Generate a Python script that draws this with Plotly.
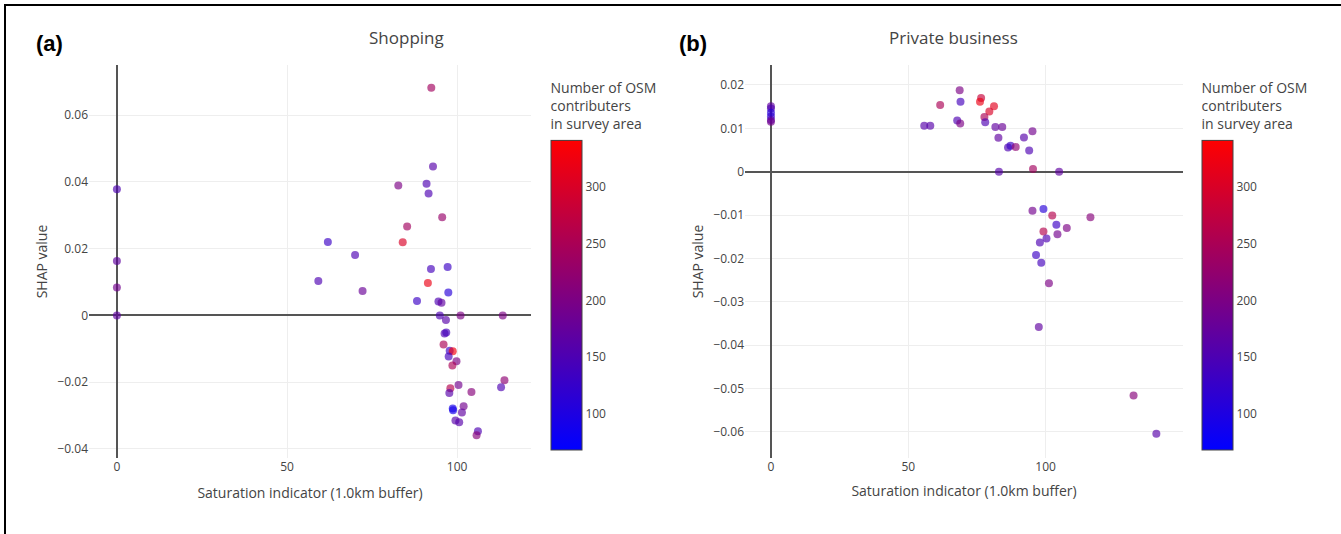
import plotly.graph_objects as go

W, H = 1341, 534

# ---------------- data ----------------
shop_x = [92.4, 92.9, 82.7, 91.0, 91.6, 95.6, 85.3, 84.0, 62.0, 70.0,
          59.2, 72.2, 92.3, 97.2, 91.4, 88.2, 97.4, 94.5, 95.4, 94.9,
          101.0, 113.4, 96.7, 96.3, 96.8, 96.0, 97.8, 98.7, 97.5, 99.8,
          98.6, 113.9, 112.9, 100.4, 98.0, 97.7, 104.2, 98.7, 98.8, 101.9,
          101.4, 99.5, 100.6, 106.1, 105.7, 0, 0, 0, 0]
shop_y = [0.0682, 0.0446, 0.0389, 0.0394, 0.0365, 0.0294, 0.0266, 0.0219, 0.0220, 0.0181,
          0.0103, 0.0073, 0.0139, 0.0145, 0.0097, 0.0043, 0.0069, 0.0042, 0.0038, 0.0,
          0.0, 0.0, -0.0014, -0.0054, -0.0051, -0.0087, -0.0106, -0.0107, -0.0123, -0.0137,
          -0.0150, -0.0194, -0.0215, -0.0208, -0.0218, -0.0232, -0.0229, -0.0279, -0.0284, -0.0272,
          -0.0291, -0.0315, -0.0320, -0.0347, -0.0359, 0.0378, 0.0163, 0.0084, 0.0]
shop_c = [240, 160, 200, 150, 150, 230, 240, 300, 130, 150,
          150, 180, 140, 130, 320, 130, 110, 150, 170, 150,
          200, 200, 160, 150, 140, 250, 130, 330, 140, 200,
          250, 220, 150, 190, 260, 160, 210, 90, 90, 190,
          170, 160, 160, 150, 210, 150, 170, 190, 170]

biz_x = [0, 0, 0, 0, 0, 0,
         68.7, 69.0, 61.6, 76.5, 76.1, 81.2, 79.5, 77.7, 78.0, 67.8,
         68.9, 55.8, 58.0, 81.7, 84.2, 95.2, 82.8, 92.1, 86.3, 87.2,
         89.1, 94.0, 95.4, 83.0, 104.9, 95.2, 99.2, 102.4, 116.3, 103.9,
         107.7, 99.2, 104.3, 100.3, 97.9, 96.5, 98.4, 101.2, 97.5, 132.0, 140.3]
biz_y = [0.0151, 0.0146, 0.0136, 0.0127, 0.0119, 0.0115,
         0.0188, 0.0161, 0.0154, 0.0170, 0.0161, 0.0151, 0.0139, 0.0126, 0.0114, 0.0118,
         0.0111, 0.0106, 0.0106, 0.0103, 0.0103, 0.0093, 0.0078, 0.0079, 0.0056, 0.0060,
         0.0057, 0.0049, 0.0006, 0.0, 0.0, -0.0090, -0.0086, -0.0101, -0.0105, -0.0122,
         -0.0130, -0.0138, -0.0144, -0.0154, -0.0163, -0.0192, -0.0210, -0.0257, -0.0358, -0.0516, -0.0604]
biz_c = [170, 150, 110, 120, 160, 190,
         200, 140, 250, 280, 320, 310, 300, 250, 150, 150,
         200, 160, 160, 170, 180, 190, 170, 160, 150, 130,
         220, 150, 240, 160, 170, 190, 110, 260, 210, 130,
         200, 260, 190, 150, 150, 130, 140, 200, 170, 210, 160]

titles = ["Shopping", "Private business"]
panel_labels = ["(a)", "(b)"]
x_title = "Saturation indicator (1.0km buffer)"
y_title = "SHAP value"
cbar_title = "Number of OSM<br>contributers<br>in survey area"
c_min, c_max = 68, 341

# ---------------- figure ----------------
FONT = "Open Sans"
GREY = "#444"
scale = [[0, "rgb(0,0,255)"], [1, "rgb(255,0,0)"]]


def px_x(p):
    return p / W


def px_y(p):
    return 1 - p / H


def cbar(left_px):
    return dict(
        title=dict(text=cbar_title, side="top", font=dict(family=FONT, size=14, color=GREY)),
        x=px_x(left_px), xanchor="left", xpad=0,
        y=px_y(450), yanchor="bottom", ypad=0,
        lenmode="pixels", len=370,
        thickness=31, thicknessmode="pixels",
        outlinewidth=1, outlinecolor=GREY,
        tickfont=dict(family=FONT, size=12, color=GREY),
        tickvals=[100, 150, 200, 250, 300],
        ticks="", ticklabelposition="outside",
    )


fig = go.Figure()
fig.add_trace(go.Scatter(
    x=shop_x, y=shop_y, mode="markers", xaxis="x", yaxis="y", showlegend=False,
    marker=dict(size=8, color=shop_c, colorscale=scale, cmin=c_min, cmax=c_max,
                opacity=0.65, line=dict(width=0), colorbar=cbar(551)),
))
fig.add_trace(go.Scatter(
    x=biz_x, y=biz_y, mode="markers", xaxis="x2", yaxis="y2", showlegend=False,
    marker=dict(size=8, color=biz_c, colorscale=scale, cmin=c_min, cmax=c_max,
                opacity=0.65, line=dict(width=0), colorbar=cbar(1202)),
))

axis_common = dict(
    showgrid=True, gridcolor="#EEEEEE", gridwidth=1,
    zeroline=True, zerolinecolor="#555", zerolinewidth=1.5,
    showline=False, ticks="",
    tickfont=dict(family=FONT, size=12, color=GREY),
    title_font=dict(family=FONT, size=14, color=GREY),
)

fig.update_layout(
    width=W, height=H,
    margin=dict(l=0, r=0, t=0, b=0),
    paper_bgcolor="white", plot_bgcolor="white",
    font=dict(family=FONT, color=GREY),
    xaxis=dict(domain=[px_x(89), px_x(531)], range=[-8.2, 121.7], anchor="y",
               tickvals=[0, 50, 100], title=dict(text=x_title, standoff=14), **axis_common),
    yaxis=dict(domain=[px_y(458), px_y(65)], range=[-0.0427, 0.075], anchor="x",
               dtick=0.02, title=dict(text=y_title, standoff=6), **axis_common),
    xaxis2=dict(domain=[px_x(745), px_x(1183)], range=[-9.45, 150], anchor="y2",
                tickvals=[0, 50, 100], title=dict(text=x_title, standoff=12), **axis_common),
    yaxis2=dict(domain=[px_y(458), px_y(65)], range=[-0.066, 0.0246], anchor="x2",
                dtick=0.01, title=dict(text=y_title, standoff=6), **axis_common),
    annotations=[
        dict(text=titles[0], x=px_x(367), y=px_y(38), xref="paper", yref="paper",
             yanchor="middle", showarrow=False, font=dict(family=FONT, size=17, color=GREY)),
        dict(text=titles[1], x=px_x(1020), y=px_y(38), xref="paper", yref="paper",
             yanchor="middle", showarrow=False, font=dict(family=FONT, size=17, color=GREY)),
        dict(text="<b>" + panel_labels[0] + "</b>", x=px_x(34), y=px_y(44), xref="paper", yref="paper",
             xanchor="left", yanchor="middle", showarrow=False,
             font=dict(family="Liberation Sans", size=22, color="black")),
        dict(text="<b>" + panel_labels[1] + "</b>", x=px_x(677), y=px_y(44), xref="paper", yref="paper",
             xanchor="left", yanchor="middle", showarrow=False,
             font=dict(family="Liberation Sans", size=22, color="black")),
    ],
    shapes=[
        dict(type="line", xref="paper", yref="paper", x0=px_x(4), x1=1, y0=px_y(5), y1=px_y(5),
             line=dict(color="black", width=2)),
        dict(type="line", xref="paper", yref="paper", x0=px_x(5), x1=px_x(5), y0=0, y1=px_y(4),
             line=dict(color="black", width=2)),
    ],
)

fig.write_html("out.html")
